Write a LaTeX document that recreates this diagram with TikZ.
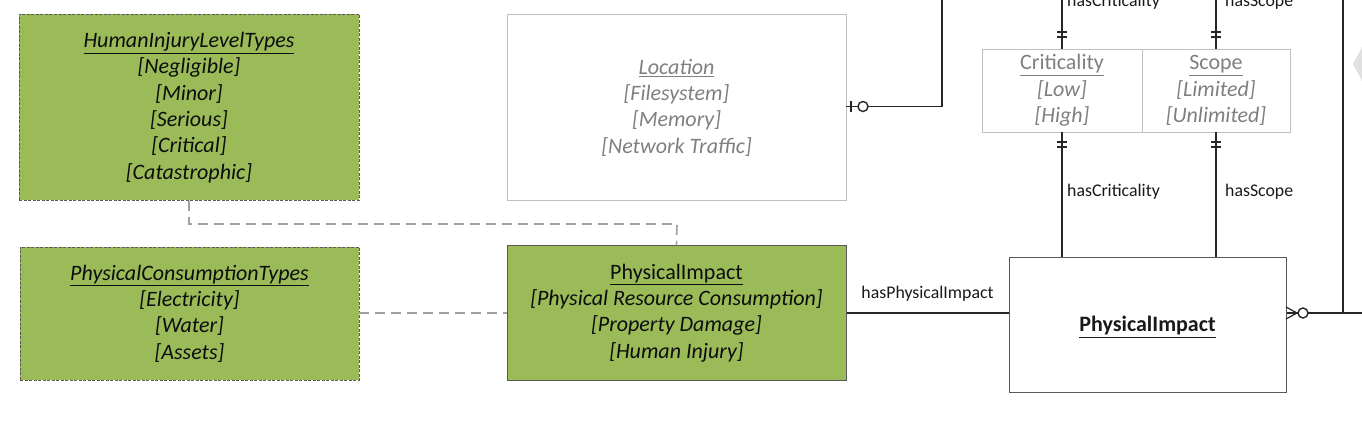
\documentclass[tikz,border=0pt]{standalone}
\usepackage{fontspec}
\setmainfont{Carlito}
\definecolor{pgreen}{HTML}{9BBB59}
\definecolor{dborder}{HTML}{595959}
\definecolor{lgray}{HTML}{BFBFBF}
\definecolor{tgray}{HTML}{7F7F7F}
\definecolor{lnk}{HTML}{262626}
\definecolor{dline}{HTML}{A0A0A0}
\begin{document}
\begin{tikzpicture}[x=1pt,y=-1pt,
  base/.style={inner sep=0pt, align=center, font=\fontsize{22}{26.3}\selectfont\itshape},
  typebox/.style={base, draw=dborder, dashed, dash pattern=on 3pt off 1.5pt, fill=pgreen, line width=0.9pt, text=black!95},
  greenbox/.style={base, draw=dborder, fill=pgreen, line width=1pt, text=black!95},
  graybox/.style={base, draw=lgray, line width=0.9pt, text=tgray},
  entity/.style={inner sep=0pt, align=center, draw=dborder, line width=1pt, font=\fontsize{22}{26}\selectfont\bfseries, text=black!90},
  rel/.style={draw=lnk, line width=1.4pt},
  dep/.style={draw=dline, line width=1.6pt, dash pattern=on 10pt off 6pt},
  lbl/.style={inner sep=0pt, font=\fontsize{17.8}{20}\selectfont, text=black!90}
]
\useasboundingbox (0,0) rectangle (1362,427);
% faint watermark shape at right edge
\fill[black!12] (1362,47) -- (1353,64) -- (1362,81) -- cycle;

\node[typebox, minimum width=340pt, minimum height=186pt] (hil) at (189,107.5)
  {\underline{HumanInjuryLevelTypes}\\{[Negligible]}\\{[Minor]}\\{[Serious]}\\{[Critical]}\\{[Catastrophic]}};
\node[typebox, minimum width=339pt, minimum height=133pt] (pct) at (189.5,313.5)
  {\underline{PhysicalConsumptionTypes}\\{[Electricity]}\\{[Water]}\\{[Assets]}};
\node[graybox, minimum width=339pt, minimum height=186pt] (loc) at (676.5,107.5)
  {\underline{Location}\\{[Filesystem]}\\{[Memory]}\\{[Network Traffic]}};
\node[greenbox, minimum width=339pt, minimum height=134pt] (gpi) at (676.5,313)
  {\upshape\underline{PhysicalImpact}\\{\itshape[Physical Resource Consumption]}\\{\itshape[Property Damage]}\\{\itshape[Human Injury]}};
\node[graybox, minimum width=160pt, minimum height=83pt] (crit) at (1062,90.5)
  {\upshape\underline{Criticality}\\{\itshape[Low]}\\{\itshape[High]}};
\node[graybox, minimum width=148pt, minimum height=83pt] (scope) at (1216,90.5)
  {\upshape\underline{Scope}\\{\itshape[Limited]}\\{\itshape[Unlimited]}};
\node[entity, minimum width=277pt, minimum height=134pt] (wpi) at (1147.5,325)
  {\raisebox{-7pt}[0pt][0pt]{\underline{PhysicalImpact}}};

% off-canvas ends
\coordinate (locTop) at (942,-2);
\coordinate (critTop) at (1062,-2);
\coordinate (scopeTop) at (1216,-2);
\coordinate (rightTop) at (1343,-2);
\coordinate (rightEnd) at (1364,313);
\coordinate (locCorner) at (942,106.5);
\coordinate (rightJoin) at (1343,313);

% dashed dependencies
\draw[dep] (hil.south) -- (189,224) -- (677,224) -- (gpi.north);
\draw[dep] (pct.east |- 0,313) -- (gpi.west |- 0,313);

% hasPhysicalImpact
\draw[rel] (gpi.east |- 0,313) -- node[lbl, above=11pt] {hasPhysicalImpact} (wpi.west |- 0,313);

% Location link
\draw[rel] (loc.east |- 0,106.5) -- (locCorner) -- (locTop);
\draw[rel] (851,101) -- (851,112);
\draw[rel, fill=white] (863,106.5) circle (5pt);

% Criticality / Scope links
\draw[rel] (critTop) -- (crit.north);
\draw[rel] (scopeTop) -- (scope.north);
\draw[rel] (crit.south) -- (crit.south |- wpi.north);
\draw[rel] (scope.south) -- (scope.south |- wpi.north);
\foreach \x in {1062,1216}{
  \draw[rel, line width=1.2pt] (\x-5,32) -- (\x+5,32) (\x-5,37) -- (\x+5,37);
  \draw[rel, line width=1.2pt] (\x-5,142) -- (\x+5,142) (\x-5,147) -- (\x+5,147);
}
\node[lbl, anchor=west] (l1) at (1067,2) {hasCriticality};
\node[lbl, anchor=west] (l2) at (1225,2) {hasScope};
\node[lbl, anchor=west] (l3) at (1067,192) {hasCriticality};
\node[lbl, anchor=west] (l4) at (1225,192) {hasScope};

% right link with crow's foot
\draw[rel] (wpi.east |- 0,313) -- (rightEnd);
\draw[rel] (rightTop) -- (rightJoin);
\draw[rel, line width=1.2pt] (1286,307) -- (1297,313) -- (1286,319);
\draw[rel, fill=white] (1303,313) circle (5pt);
\end{tikzpicture}
\end{document}
